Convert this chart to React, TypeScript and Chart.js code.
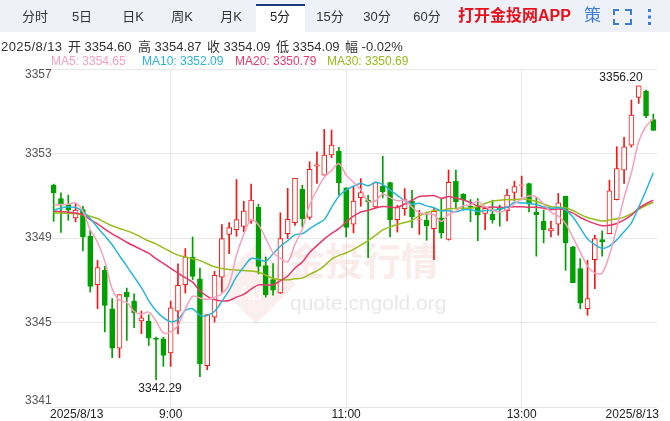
import React, { useEffect, useRef } from "react";
import { Chart, registerables } from "chart.js";

Chart.register(...registerables);

// ---------- data ----------
const TIMES = [
  "7:40", "7:45", "7:50", "7:55",
  "8:00", "8:05", "8:10", "8:15", "8:20", "8:25", "8:30", "8:35", "8:40", "8:45", "8:50", "8:55",
  "9:00", "9:05", "9:10", "9:15", "9:20", "9:25", "9:30", "9:35", "9:40", "9:45", "9:50", "9:55",
  "10:00", "10:05", "10:10", "10:15", "10:20", "10:25", "10:30", "10:35", "10:40", "10:45", "10:50", "10:55",
  "11:00", "11:05", "11:10", "11:15", "11:20", "11:25", "11:30", "11:35", "11:40", "11:45", "11:50", "11:55",
  "12:00", "12:05", "12:10", "12:15", "12:20", "12:25", "12:30", "12:35", "12:40", "12:45", "12:50", "12:55",
  "13:00", "13:05", "13:10", "13:15", "13:20", "13:25", "13:30", "13:35", "13:40", "13:45", "13:50", "13:55",
  "14:00", "14:05", "14:10", "14:15", "14:20", "14:25", "14:30",
];

const OPEN = [
  3351.50, 3350.87, 3350.60, 3349.95, 3350.35, 3349.08, 3346.79, 3347.47, 3345.65, 3343.79,
  3346.43, 3346.00, 3345.08, 3345.05, 3344.25, 3344.23, 3343.56, 3345.54, 3346.79, 3348.10,
  3347.07, 3342.96, 3345.25, 3347.15, 3349.17, 3349.40, 3349.55, 3349.80, 3350.45, 3347.70,
  3347.03, 3346.40, 3349.21, 3349.73, 3351.30, 3349.97, 3352.40, 3351.98, 3352.93, 3353.12,
  3351.38, 3349.65, 3350.91, 3350.79, 3350.47, 3351.45, 3351.62, 3349.87, 3350.39, 3350.75,
  3349.84, 3349.84, 3349.44, 3349.96, 3348.93, 3351.69, 3351.08, 3350.50, 3350.48, 3350.16,
  3350.13, 3350.40, 3350.29, 3351.16, 3351.49, 3351.58, 3350.21, 3349.80, 3349.34, 3349.65,
  3350.98, 3348.58, 3347.55, 3345.65, 3347.98, 3348.92, 3349.21, 3350.82, 3352.21, 3353.40,
  3355.66, 3355.96, 3354.60,
];
const HIGH = [
  3351.55, 3351.14, 3351.03, 3350.63, 3350.50, 3349.37, 3347.94, 3347.66, 3346.13, 3346.32,
  3346.63, 3346.36, 3345.54, 3345.37, 3344.31, 3344.30, 3346.01, 3347.78, 3348.50, 3349.05,
  3347.58, 3345.37, 3347.42, 3349.63, 3349.73, 3351.77, 3350.74, 3351.55, 3350.60, 3348.10,
  3347.79, 3350.19, 3351.35, 3351.82, 3351.50, 3352.61, 3353.08, 3354.14, 3354.11, 3353.29,
  3351.38, 3351.42, 3351.81, 3351.02, 3351.65, 3352.87, 3351.65, 3350.55, 3351.34, 3351.26,
  3350.31, 3350.23, 3350.42, 3350.86, 3352.22, 3352.22, 3351.10, 3350.82, 3350.87, 3350.48,
  3350.79, 3350.56, 3351.30, 3351.69, 3351.93, 3351.60, 3350.92, 3350.32, 3349.80, 3351.11,
  3350.98, 3348.60, 3348.02, 3347.95, 3349.13, 3349.34, 3351.74, 3353.32, 3353.76, 3355.53,
  3356.20, 3356.00, 3354.87,
];
const LOW = [
  3349.79, 3349.26, 3349.84, 3349.76, 3348.39, 3346.44, 3345.65, 3344.55, 3343.33, 3343.33,
  3344.15, 3344.75, 3344.47, 3343.91, 3342.29, 3342.92, 3342.92, 3344.46, 3346.39, 3347.03,
  3342.44, 3342.76, 3345.02, 3346.44, 3348.26, 3349.08, 3349.29, 3349.69, 3347.30, 3346.20,
  3346.29, 3346.37, 3348.97, 3349.60, 3349.53, 3349.88, 3351.58, 3351.98, 3352.80, 3351.03,
  3349.05, 3349.24, 3350.50, 3348.07, 3350.42, 3350.90, 3349.05, 3349.28, 3350.07, 3349.49,
  3349.17, 3348.89, 3347.97, 3349.00, 3348.90, 3350.40, 3350.32, 3349.77, 3348.87, 3349.40,
  3349.70, 3349.56, 3349.81, 3350.76, 3350.95, 3350.24, 3348.14, 3348.77, 3349.05, 3349.13,
  3347.47, 3346.89, 3345.65, 3345.34, 3346.60, 3348.14, 3349.20, 3350.80, 3351.58, 3353.30,
  3355.37, 3354.70, 3354.09,
];
const CLOSE = [
  3351.13, 3350.55, 3350.32, 3350.32, 3349.05, 3346.71, 3347.60, 3345.81, 3343.79, 3346.32,
  3346.21, 3345.45, 3345.22, 3344.26, 3344.20, 3343.44, 3345.70, 3346.76, 3348.10, 3347.18,
  3343.04, 3345.37, 3347.23, 3348.97, 3349.49, 3349.87, 3350.27, 3350.79, 3347.66, 3346.30,
  3346.53, 3348.97, 3349.88, 3351.82, 3349.92, 3352.25, 3352.46, 3352.93, 3353.40, 3351.61,
  3349.50, 3350.75, 3351.15, 3350.71, 3351.62, 3351.18, 3349.87, 3350.44, 3350.82, 3350.00,
  3349.87, 3349.57, 3350.26, 3349.24, 3351.63, 3350.71, 3350.82, 3350.45, 3350.08, 3350.40,
  3349.85, 3350.35, 3351.03, 3351.43, 3351.52, 3350.60, 3350.11, 3349.40, 3349.45, 3350.66,
  3348.77, 3346.89, 3345.92, 3346.13, 3348.97, 3348.81, 3351.23, 3352.29, 3353.32, 3354.82,
  3356.20, 3354.79, 3354.09,
];

const MA5 = [
  3350.55, 3350.58, 3350.60, 3350.66, 3350.27, 3349.39, 3348.80, 3347.90, 3346.59, 3346.05,
  3345.95, 3345.52, 3345.40, 3345.49, 3345.07, 3344.51, 3344.56, 3344.87, 3345.64, 3346.24,
  3346.16, 3346.09, 3346.18, 3346.36, 3346.82, 3348.19, 3349.17, 3349.88, 3349.62, 3348.98,
  3348.31, 3348.05, 3347.87, 3348.70, 3349.42, 3350.57, 3351.27, 3351.88, 3352.19, 3352.53,
  3351.98, 3351.64, 3351.28, 3350.74, 3350.75, 3351.08, 3350.91, 3350.76, 3350.79, 3350.46,
  3350.20, 3350.14, 3350.10, 3349.79, 3350.11, 3350.28, 3350.53, 3350.57, 3350.74, 3350.49,
  3350.32, 3350.23, 3350.34, 3350.61, 3350.84, 3350.99, 3350.94, 3350.61, 3350.22, 3350.04,
  3349.68, 3349.03, 3348.34, 3347.67, 3347.34, 3347.34, 3348.21, 3349.49, 3350.92, 3352.09,
  3353.57, 3354.28, 3354.65,
];
const MA10 = [
  3350.32, 3350.42, 3350.47, 3350.45, 3350.25, 3349.92, 3349.50, 3349.10, 3348.68, 3348.16,
  3347.67, 3347.16, 3346.65, 3346.04, 3345.56, 3345.23, 3345.04, 3345.14, 3345.57, 3345.65,
  3345.34, 3345.33, 3345.53, 3346.00, 3346.53, 3347.17, 3347.63, 3348.03, 3347.99, 3347.90,
  3348.25, 3348.61, 3348.87, 3349.16, 3349.20, 3349.44, 3349.66, 3349.87, 3350.45, 3350.98,
  3351.27, 3351.45, 3351.58, 3351.47, 3351.64, 3351.53, 3351.27, 3351.02, 3350.77, 3350.60,
  3350.64, 3350.52, 3350.43, 3350.29, 3350.29, 3350.24, 3350.34, 3350.34, 3350.26, 3350.30,
  3350.30, 3350.38, 3350.46, 3350.68, 3350.66, 3350.65, 3350.58, 3350.48, 3350.41, 3350.44,
  3350.33, 3349.99, 3349.48, 3348.95, 3348.69, 3348.51, 3348.62, 3348.91, 3349.30, 3349.72,
  3350.46, 3351.25, 3352.09,
];
const MA20 = [
  3350.27, 3350.25, 3350.22, 3350.18, 3350.10, 3349.87, 3349.67, 3349.42, 3349.20, 3349.00,
  3348.80, 3348.62, 3348.45, 3348.28, 3348.02, 3347.80, 3347.56, 3347.34, 3347.12, 3346.91,
  3346.50, 3346.24, 3346.09, 3346.02, 3346.04, 3346.20, 3346.33, 3346.58, 3346.78, 3346.78,
  3346.79, 3346.97, 3347.20, 3347.58, 3347.86, 3348.31, 3348.64, 3348.95, 3349.22, 3349.44,
  3349.76, 3350.03, 3350.23, 3350.31, 3350.42, 3350.49, 3350.47, 3350.45, 3350.61, 3350.79,
  3350.96, 3350.99, 3351.01, 3350.88, 3350.96, 3350.89, 3350.80, 3350.68, 3350.51, 3350.45,
  3350.47, 3350.45, 3350.45, 3350.48, 3350.48, 3350.45, 3350.46, 3350.41, 3350.34, 3350.37,
  3350.32, 3350.18, 3349.97, 3349.81, 3349.68, 3349.58, 3349.60, 3349.69, 3349.86, 3350.08,
  3350.40, 3350.62, 3350.79,
];
const MA30 = [
  3350.19, 3350.18, 3350.17, 3350.15, 3350.10, 3350.03, 3349.92, 3349.74, 3349.58, 3349.45,
  3349.34, 3349.21, 3349.03, 3348.86, 3348.72, 3348.53, 3348.35, 3348.19, 3348.10, 3348.02,
  3347.93, 3347.78, 3347.64, 3347.56, 3347.51, 3347.48, 3347.46, 3347.44, 3347.38, 3347.24,
  3347.08, 3347.03, 3347.02, 3347.07, 3347.10, 3347.28, 3347.44, 3347.68, 3348.00, 3348.18,
  3348.29, 3348.46, 3348.66, 3348.88, 3349.12, 3349.38, 3349.52, 3349.64, 3349.73, 3349.83,
  3350.05, 3350.19, 3350.30, 3350.30, 3350.38, 3350.40, 3350.42, 3350.41, 3350.49, 3350.63,
  3350.74, 3350.79, 3350.82, 3350.81, 3350.86, 3350.81, 3350.73, 3350.61, 3350.48, 3350.45,
  3350.43, 3350.30, 3350.12, 3349.97, 3349.88, 3349.80, 3349.85, 3349.91, 3349.99, 3350.15,
  3350.36, 3350.54, 3350.69,
];

const Y_TICKS = [3341, 3345, 3349, 3353, 3357];
const X_TICK_TIMES = ["7:40", "9:00", "11:00", "13:00", "14:30"];
const X_TICK_TEXT = ["2025/8/13", "9:00", "11:00", "13:00", "2025/8/13"];
const GRID_TIMES = ["9:00", "11:00", "13:00"];

const TABS = ["分时", "5日", "日K", "周K", "月K", "5分", "15分", "30分", "60分"];
const SELECTED_TAB = "5分";
const INFO = ["2025/8/13", "开 3354.60", "高 3354.87", "收 3354.09", "低 3354.09", "幅 -0.02%"];
const MA_LEGEND = ["MA5: 3354.65", "MA10: 3352.09", "MA20: 3350.79", "MA30: 3350.69"];

// ---------- styles ----------
const FONT = '"Liberation Sans", "Noto Sans CJK SC", Arial, sans-serif';
const RED = "#f21818";
const GREEN = "#00a000";
const MA_COLORS = ["#f6a0bb", "#27b6da", "#e8386c", "#98bc1c"];
const GRID = "#e8e8e8";

const TAB_X = [35, 82, 133, 182, 231, 280, 330, 377, 427];
const INFO_X = [1, 68, 138, 207, 276, 345];
const LEGEND_X = [51, 142, 235, 327];

const annotatePlugin = {
  id: "annotate",
  beforeDatasetsDraw(chart: any) {
    const { ctx } = chart;
    ctx.save();
    // watermark: diamond logo
    const cx = 256, cy = 284, r = 40;
    ctx.beginPath();
    ctx.moveTo(cx, cy - r);
    ctx.lineTo(cx + r, cy);
    ctx.lineTo(cx, cy + r);
    ctx.lineTo(cx - r, cy);
    ctx.closePath();
    ctx.fillStyle = "rgba(228, 120, 120, 0.12)";
    ctx.fill();
    ctx.font = "20px " + FONT;
    ctx.fillStyle = "rgba(255,255,255,0.85)";
    ctx.textAlign = "center";
    ctx.textBaseline = "middle";
    ctx.fillText("Au", 250, 294);
    ctx.font = "bold 38px " + FONT;
    ctx.fillStyle = "rgba(232, 140, 140, 0.17)";
    ctx.textAlign = "left";
    ctx.fillText("金投行情", 287, 265);
    ctx.font = "21px " + FONT;
    ctx.fillStyle = "rgba(190, 190, 190, 0.35)";
    ctx.fillText("quote.cngold.org", 290, 304);
    ctx.restore();
  },
  afterDraw(chart: any) {
    const { ctx, scales } = chart;
    const y = scales.y;
    const x = scales.x;
    ctx.save();
    ctx.font = "12px " + FONT;
    ctx.fillStyle = "#555";
    ctx.textAlign = "left";
    ctx.textBaseline = "middle";
    Y_TICKS.forEach((v) => {
      let py = y.getPixelForValue(v);
      if (v === y.max) py += 6;
      if (v === y.min) py -= 6;
      ctx.fillText(String(v), 25, py);
    });
    ctx.fillStyle = "#222";
    X_TICK_TIMES.forEach((t, k) => {
      const idx = TIMES.indexOf(t);
      const px = x.getPixelForValue(idx);
      if (k === 0) {
        ctx.textAlign = "left";
        ctx.fillText(X_TICK_TEXT[k], chart.chartArea.left, 415);
      } else if (k === X_TICK_TIMES.length - 1) {
        ctx.textAlign = "right";
        ctx.fillText(X_TICK_TEXT[k], chart.chartArea.right + 2, 415);
      } else {
        ctx.textAlign = "center";
        ctx.fillText(X_TICK_TEXT[k], px, 415);
      }
    });
    // min / max annotations
    let minI = 0, maxI = 0;
    LOW.forEach((v, i) => { if (v < LOW[minI]) minI = i; });
    HIGH.forEach((v, i) => { if (v > HIGH[maxI]) maxI = i; });
    ctx.fillStyle = "#222";
    ctx.textAlign = "center";
    ctx.fillText(LOW[minI].toFixed(2), x.getPixelForValue(minI) + 4, y.getPixelForValue(LOW[minI]) + 9);
    ctx.textAlign = "right";
    ctx.fillText(HIGH[maxI].toFixed(2), x.getPixelForValue(maxI) + 4, y.getPixelForValue(HIGH[maxI]) - 8);
    ctx.restore();
  },
};

function ChartCanvas() {
  const ref = useRef<HTMLCanvasElement | null>(null);
  useEffect(() => {
    document.body.style.margin = "0";
    const up = CLOSE.map((c, i) => c >= OPEN[i]);
    const gridIdx = GRID_TIMES.map((t) => TIMES.indexOf(t));
    const lineDs = (data: number[], color: string, w: number) => ({
      type: "line" as const,
      data,
      borderColor: color,
      borderWidth: w,
      pointRadius: 0,
      tension: 0.3,
      order: 0,
    });
    const chart = new Chart(ref.current as HTMLCanvasElement, {
      type: "bar",
      data: {
        labels: TIMES,
        datasets: [
          lineDs(MA5, MA_COLORS[0], 1.5),
          lineDs(MA10, MA_COLORS[1], 1.5),
          lineDs(MA20, MA_COLORS[2], 1.5),
          lineDs(MA30, MA_COLORS[3], 1.5),
          {
            type: "bar",
            data: OPEN.map((o, i) => [o, CLOSE[i]]),
            backgroundColor: up.map((u) => (u ? "#ffffff" : GREEN)),
            borderColor: up.map((u) => (u ? RED : GREEN)),
            borderWidth: 1,
            borderSkipped: false,
            barThickness: 5,
            grouped: false,
            order: 1,
          } as any,
          {
            type: "bar",
            data: LOW.map((l, i) => [l, HIGH[i]]),
            backgroundColor: up.map((u) => (u ? RED : GREEN)),
            borderWidth: 0,
            barThickness: 1,
            grouped: false,
            order: 2,
          } as any,
        ],
      },
      options: {
        responsive: false,
        animation: false,
        events: [],
        layout: { padding: { left: 50, right: 13, top: 69, bottom: 14 } },
        plugins: { legend: { display: false }, tooltip: { enabled: false } },
        scales: {
          x: {
            type: "category",
            offset: true,
            border: { display: false },
            grid: {
              offset: false,
              drawTicks: false,
              color: (c: any) => (gridIdx.includes(c.index) ? GRID : "rgba(0,0,0,0)"),
            },
            ticks: { display: false, autoSkip: false },
          },
          y: {
            min: 3341,
            max: 3357,
            border: { display: false },
            grid: { color: GRID, drawTicks: false },
            ticks: { display: false, stepSize: 4 },
          },
        },
      },
      plugins: [annotatePlugin],
    });
    return () => chart.destroy();
  }, []);
  return (
    <canvas
      ref={ref}
      width={670}
      height={421}
      style={{ position: "absolute", left: 0, top: 0, width: 670, height: 421 }}
    />
  );
}

export default function App() {
  const abs = (extra: React.CSSProperties): React.CSSProperties => ({
    position: "absolute",
    whiteSpace: "nowrap",
    fontFamily: FONT,
    ...extra,
  });
  return (
    <div style={{ position: "relative", width: 670, height: 421, background: "#fff", overflow: "hidden" }}>
      <ChartCanvas />
      <div style={abs({ left: 0, top: 0, width: 670, height: 32, background: "#eef2f8" })} />
      <div
        style={abs({
          left: 256,
          top: 4,
          width: 49,
          height: 28,
          background: "#fff",
          borderTop: "2px solid #1c3b78",
          boxSizing: "border-box",
        })}
      />
      {TABS.map((t, i) => (
        <span
          key={t}
          style={abs({
            left: TAB_X[i],
            top: 1,
            lineHeight: "32px",
            fontSize: 13,
            color: t === SELECTED_TAB ? "#222" : "#333",
            transform: "translateX(-50%)",
          })}
        >
          {t}
        </span>
      ))}
      <span style={abs({ left: 458, top: 0, lineHeight: "32px", fontSize: 16, fontWeight: "bold", color: "#e8101a" })}>
        打开金投网APP
      </span>
      <span style={abs({ left: 584, top: 0, lineHeight: "32px", fontSize: 17, color: "#3c7fd6" })}>策</span>
      <svg style={{ position: "absolute", left: 613, top: 9 }} width={19} height={16}>
        <g stroke="#3c7fd6" strokeWidth={2} fill="none">
          <polyline points="1,6 1,1 6,1" />
          <polyline points="12,1 18,1 18,6" />
          <polyline points="1,10 1,15 6,15" />
          <polyline points="12,15 18,15 18,10" />
        </g>
      </svg>
      <svg style={{ position: "absolute", left: 647, top: 8 }} width={6} height={18}>
        <g fill="#3c7fd6">
          <rect x={1} y={1} width={3} height={3} />
          <rect x={1} y={7.5} width={3} height={3} />
          <rect x={1} y={14} width={3} height={3} />
        </g>
      </svg>
      {INFO.map((t, i) => (
        <span
          key={i}
          style={abs({
            left: INFO_X[i],
            top: 39,
            lineHeight: "15px",
            fontSize: 13,
            color: "#333",
            letterSpacing: i === 0 ? "0.4px" : "0px",
          })}
        >
          {t}
        </span>
      ))}
      {MA_LEGEND.map((t, i) => (
        <span key={i} style={abs({ left: LEGEND_X[i], top: 54, lineHeight: "15px", fontSize: 12, color: MA_COLORS[i] })}>
          {t}
        </span>
      ))}
    </div>
  );
}
